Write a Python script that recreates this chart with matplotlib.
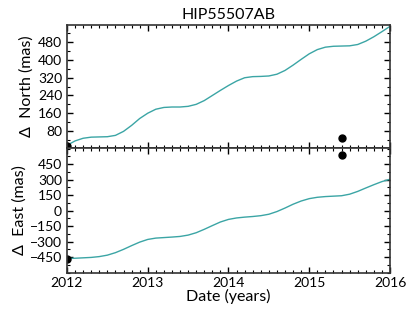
import matplotlib
matplotlib.use("Agg")
import matplotlib.pyplot as plt
from matplotlib.ticker import MultipleLocator

plt.rcParams["font.family"] = ["Lato", "DejaVu Sans"]

years = [2012.0, 2012.1, 2012.2, 2012.3, 2012.4, 2012.5, 2012.6, 2012.7, 2012.8, 2012.9,
         2013.0, 2013.1, 2013.2, 2013.3, 2013.4, 2013.5, 2013.6, 2013.7, 2013.8, 2013.9,
         2014.0, 2014.1, 2014.2, 2014.3, 2014.4, 2014.5, 2014.6, 2014.7, 2014.8, 2014.9,
         2015.0, 2015.1, 2015.2, 2015.3, 2015.4, 2015.5, 2015.6, 2015.7, 2015.8, 2015.9,
         2016.0]
north_model = [15, 35, 47, 52, 53, 54, 60, 78, 105, 136,
               160, 178, 186, 188, 188, 191, 200, 217, 240, 263,
               285, 305, 320, 325, 326, 328, 336, 353, 377, 403,
               428, 447, 458, 462, 463, 464, 470, 485, 505, 528,
               552]
east_model = [-465, -462, -458, -454, -446, -432, -408, -376, -340, -306,
              -280, -267, -262, -257, -251, -238, -215, -182, -146, -111,
              -86, -72, -64, -58, -50, -36, -10, 24, 61, 92,
              115, 128, 135, 139, 143, 158, 185, 218, 250, 280,
              303]

# measured offsets
obs_dates = [2012.0, 2015.40]
obs_north = [14, 50]
obs_east = [-466, 540]

north_ticks = [80, 160, 240, 320, 400, 480]
east_ticks = [-450, -300, -150, 0, 150, 300, 450]

line_col = "#3ba5a5"

fig = plt.figure(figsize=(4.15, 3.12), dpi=100)
ax1 = fig.add_axes([0.1614, 0.5256, 0.7784, 0.3943])
ax2 = fig.add_axes([0.1614, 0.1266, 0.7784, 0.3990], sharex=ax1)

ax1.plot(years, north_model, color=line_col, lw=1.0)
ax1.plot(obs_dates, obs_north, "o", color="black", ms=5)
ax2.plot(years, east_model, color=line_col, lw=1.0)
ax2.plot(obs_dates, obs_east, "o", color="black", ms=5)

ax1.set_xlim(2012, 2016)
ax1.set_ylim(3, 558)
ax2.set_ylim(-600, 605)
ax1.set_yticks(north_ticks)
ax2.set_yticks(east_ticks)
ax2.set_xticks([2012, 2013, 2014, 2015, 2016])
ax2.set_xticklabels(["2012", "2013", "2014", "2015", "2016"])

for ax, minor in ((ax1, 40), (ax2, 75)):
    ax.xaxis.set_minor_locator(MultipleLocator(0.1))
    ax.yaxis.set_minor_locator(MultipleLocator(minor))
    ax.tick_params(which="both", direction="in", top=True, right=True, labelsize=10)
    ax.tick_params(which="major", length=4.5, width=1)
    ax.tick_params(which="minor", length=2.5, width=0.8)
    for s in ax.spines.values():
        s.set_linewidth(1.2)
        s.set_color("#333333")
ax1.tick_params(labelbottom=False)

ax1.set_title("HIP55507AB", fontsize=11.5, pad=4)
ax1.set_ylabel("\u0394  North (mas)", fontsize=11.5, labelpad=3)
ax2.set_ylabel("\u0394  East (mas)", fontsize=11.5, labelpad=2)
ax2.set_xlabel("Date (years)", fontsize=11.5, labelpad=0)

fig.savefig("out.png", dpi=100)
